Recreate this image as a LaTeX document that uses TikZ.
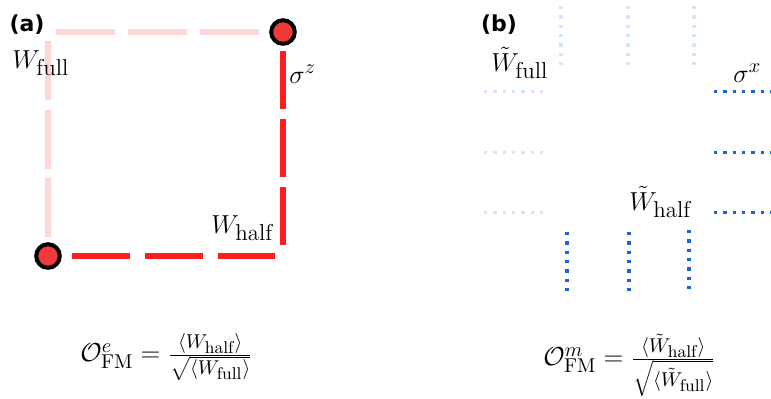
\RequirePackage{fix-cm}
\documentclass[tikz,border=0pt]{standalone}
\usepackage{fontspec}
\newfontfamily\labfont{DejaVu Sans}
\usetikzlibrary{calc}
\definecolor{lpink}{HTML}{FFD6D6}
\definecolor{sred}{HTML}{FF1E1E}
\definecolor{cred}{HTML}{F03A3A}
\definecolor{lblue}{HTML}{D6E5FA}
\definecolor{dblue}{HTML}{1A64D8}
\newcommand\fs[1]{\fontsize{#1}{#1}\selectfont}
\newcommand\hsz[2]{\hbox{\fs{#1}#2}}
\begin{document}
\begin{tikzpicture}[x=0.5pt,y=-0.5pt,
  bond/.style={line width=3pt},
  site/.style={circle, fill=cred, draw=black, line width=2pt, minimum size=11.8pt, inner sep=0pt},
  dotline/.style={line width=1.65pt, dash pattern=on 1.65pt off 3pt},
  lab/.style={inner sep=0pt, font=\fs{13}},
  panel/.style={inner sep=0pt, font=\labfont\bfseries\fs{11}}]
\useasboundingbox (0,0) rectangle (771,398);
% ---------- panel (a)
\coordinate (tl) at (48,32);
\coordinate (br) at (283,256);
\node[site] (s1) at (283,32) {};
\node[site] (s2) at (48,256) {};
\draw[bond, lpink, dash pattern=on 29.5pt off 6.5pt] ($(tl)+(8,0)$) -- ($(s1.center)+(-24,0)$);
\draw[bond, lpink, dash pattern=on 29.5pt off 4.8pt] ($(tl)+(0,9)$) -- ($(s2.center)+(0,-19)$);
\draw[bond, sred, dash pattern=on 29pt off 5pt] ($(s1.center)+(0,19)$) -- ($(br)+(0,-11)$);
\draw[bond, sred, dash pattern=on 29pt off 7.5pt] ($(s2.center)+(24,0)$) -- ($(br)+(-8,0)$);
\node[panel] (pa) at (27,25) {(a)};
\node[lab, anchor=base west] (wfull) at (12,68) {$W_{\hsz{11.5}{full}}$};
\node[lab, anchor=base west] (whalf) at (211,233) {$W_{\hsz{11.5}{half}}$};
\node[lab, anchor=base west] (sz) at (289,83) {$\sigma^{\hsz{10}{$z$}}$};
\node[lab, anchor=base west] (fa) at (80,361.5)
  {$\mathcal{O}^{\hsz{10}{$e$}}_{\hsz{10}{FM}} = \frac{\hsz{10}{$\langle W_{\hsz{8.5}{half}}\rangle$}}{\hsz{10}{$\sqrt{\langle W_{\hsz{8.5}{full}}\rangle}$}}$};
% ---------- panel (b)
\node[panel] (pb) at (499,25) {(b)};
\foreach \xx in {561,628,694} \draw[dotline, lblue] (\xx,6) -- (\xx,65);
\foreach \yy in {91.7,152.3,212.7} {
  \draw[dotline, lblue] (484,\yy) -- (543,\yy);
  \draw[dotline, dblue] (714,\yy) -- (771,\yy);
}
\draw[dotline, dblue] (567,232) -- (567,291);
\draw[dotline, dblue] (629,232) -- (629,291);
\draw[dotline, dblue] (689,230) -- (689,289);
\node[lab, anchor=base west] (wtfull) at (491,71) {$\tilde W_{\hsz{11.5}{full}}$};
\node[lab, anchor=base west] (wthalf) at (629,210) {$\tilde W_{\hsz{11.5}{half}}$};
\node[lab, anchor=base west] (sx) at (733,82) {$\sigma^{\hsz{10}{$x$}}$};
\node[lab, anchor=base west] (fb) at (543,365.5)
  {$\mathcal{O}^{\hsz{10}{$m$}}_{\hsz{10}{FM}} = \frac{\hsz{10}{$\langle \tilde W_{\hsz{8.5}{half}}\rangle$}}{\hsz{10}{$\sqrt{\langle \tilde W_{\hsz{8.5}{full}}\rangle}$}}$};
\end{tikzpicture}
\end{document}
